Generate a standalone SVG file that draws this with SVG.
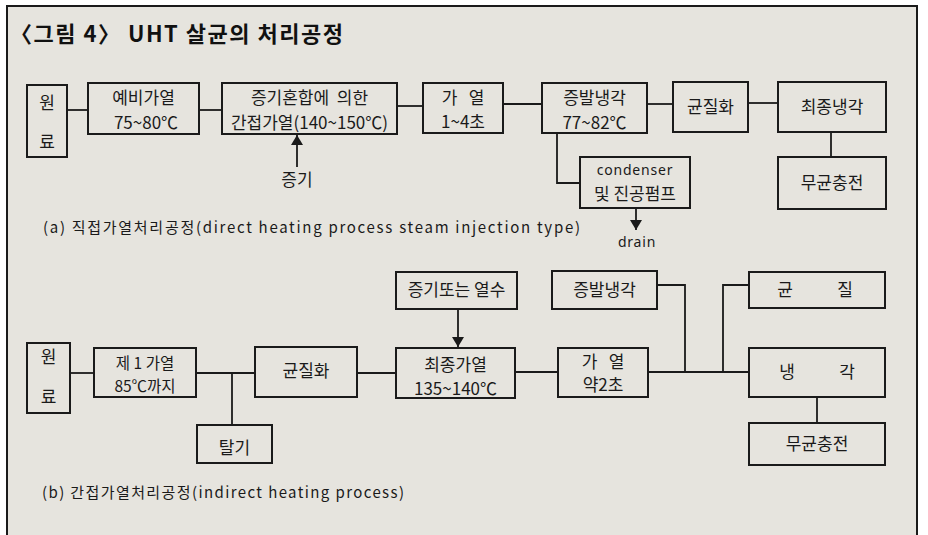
<svg xmlns="http://www.w3.org/2000/svg" width="928" height="535" viewBox="0 0 928 535">
<defs>
<style>
.box{fill:none;stroke:#1a1a1a;stroke-width:2}
.ln{fill:none;stroke:#1a1a1a;stroke-width:1.8}
.t{font-family:"Noto Sans CJK KR","Noto Sans",sans-serif;font-size:17px;fill:#1a1a1a;text-anchor:middle}
.s{font-size:15.5px}
.e{font-family:"Noto Sans","Noto Sans CJK KR",sans-serif;font-size:14px;fill:#1a1a1a;text-anchor:middle}
.cap{font-family:"Noto Sans CJK KR","Noto Sans",sans-serif;font-size:15px;fill:#1a1a1a}
.title{font-family:"Noto Sans CJK KR","Noto Sans",sans-serif;font-size:22px;font-weight:bold;fill:#111}
</style>
<marker id="ah" viewBox="0 0 10 14" refX="10" refY="7" markerWidth="10" markerHeight="14" markerUnits="userSpaceOnUse" orient="auto">
<path d="M0,1 L10,7 L0,13 Z" fill="#1a1a1a"/>
</marker>
</defs>
<rect x="0" y="0" width="928" height="535" fill="#ffffff"/>
<rect x="7" y="6" width="910" height="535" fill="#e6e4de" stroke="#1a1a1a" stroke-width="2"/>
<text class="title" x="10" y="42" textLength="333" lengthAdjust="spacing">〈그림 4〉 UHT 살균의 처리공정</text>

<g id="connectors">
<line class="ln" x1="67" y1="110" x2="88" y2="110"/>
<line class="ln" x1="199" y1="110" x2="222" y2="110"/>
<line class="ln" x1="397" y1="106" x2="423" y2="106"/>
<line class="ln" x1="503" y1="104" x2="542" y2="104"/>
<line class="ln" x1="647" y1="104" x2="673" y2="104"/>
<line class="ln" x1="748" y1="103" x2="778" y2="103"/>
<polyline class="ln" points="557,133 557,183 580,183"/>
<line class="ln" x1="831" y1="132" x2="831" y2="157"/>
<line class="ln" x1="636" y1="208" x2="636" y2="230" marker-end="url(#ah)"/>
<line class="ln" x1="297" y1="167" x2="297" y2="135" marker-end="url(#ah)"/>

<line class="ln" x1="70" y1="373" x2="94" y2="373"/>
<line class="ln" x1="196" y1="373" x2="255" y2="373"/>
<line class="ln" x1="232" y1="373" x2="232" y2="425"/>
<line class="ln" x1="357" y1="373" x2="396" y2="373"/>
<line class="ln" x1="515" y1="372" x2="558" y2="372"/>
<line class="ln" x1="648" y1="372" x2="749" y2="372"/>
<polyline class="ln" points="657,285 685,285 685,372"/>
<polyline class="ln" points="723,372 723,285 749,285"/>
<line class="ln" x1="817" y1="397" x2="817" y2="423"/>
<line class="ln" x1="458" y1="309" x2="458" y2="347" marker-end="url(#ah)"/>
</g>

<g id="a-raw"><rect class="box" x="27" y="85" width="40" height="72"/><text class="t" x="47" y="109">원</text><text class="t" x="47" y="148">료</text></g>
<g id="a-preheat"><rect class="box" x="88" y="83" width="111" height="51"/><text class="t" x="143.5" y="104">예비가열</text><text class="t" x="146" y="129">75~80℃</text></g>
<g id="a-steammix"><rect class="box" x="222" y="83" width="175" height="51"/><text class="t" x="309.5" y="104" xml:space="preserve">증기혼합에  의한</text><text class="t" x="309.5" y="129">간접가열(140~150℃)</text></g>
<g id="a-heat"><rect class="box" x="423" y="83" width="80" height="50"/><text class="t" x="463" y="104" xml:space="preserve">가   열</text><text class="t" x="463" y="128">1~4초</text></g>
<g id="a-evap"><rect class="box" x="542" y="83" width="105" height="50"/><text class="t" x="594.5" y="104">증발냉각</text><text class="t" x="594.5" y="129">77~82℃</text></g>
<g id="a-homog"><rect class="box" x="673" y="82" width="75" height="50"/><text class="t" x="710.5" y="113">균질화</text></g>
<g id="a-finalcool"><rect class="box" x="778" y="82" width="108" height="50"/><text class="t" x="832" y="113">최종냉각</text></g>
<g id="a-aseptic"><rect class="box" x="778" y="157" width="108" height="52"/><text class="t" x="832" y="189">무균충전</text></g>
<g id="a-condenser"><rect class="box" x="580" y="157" width="110" height="51"/><text class="e" x="635" y="175" letter-spacing="0.8">condenser</text><text class="t" x="635" y="200">및 진공펌프</text></g>
<g id="a-steam-label"><text class="t" x="297" y="186">증기</text></g>
<g id="a-drain-label"><text class="e" x="637" y="247" letter-spacing="0.8">drain</text></g>
<text class="cap" x="43" y="233" textLength="537" lengthAdjust="spacing">(a) 직접가열처리공정(direct heating process steam injection type)</text>

<g id="b-raw"><rect class="box" x="27" y="343" width="43" height="70"/><text class="t" x="48.5" y="363">원</text><text class="t" x="48.5" y="403">료</text></g>
<g id="b-heat1"><rect class="box" x="94" y="348" width="102" height="49"/><text class="t s" x="145" y="369" xml:space="preserve">제 1 가열</text><text class="t s" x="145" y="392">85℃까지</text></g>
<g id="b-homog"><rect class="box" x="255" y="347" width="102" height="50"/><text class="t" x="306" y="377">균질화</text></g>
<g id="b-deaer"><rect class="box" x="197" y="425" width="75" height="38"/><text class="t" x="234.5" y="454">탈기</text></g>
<g id="b-steam"><rect class="box" x="396" y="272" width="121" height="37"/><text class="t" x="456.5" y="296">증기또는 열수</text></g>
<g id="b-finalheat"><rect class="box" x="396" y="348" width="119" height="50"/><text class="t" x="455.5" y="371">최종가열</text><text class="t" x="455.5" y="395">135~140℃</text></g>
<g id="b-heat"><rect class="box" x="558" y="348" width="90" height="49"/><text class="t" x="603" y="368" xml:space="preserve">가   열</text><text class="t" x="603" y="391">약2초</text></g>
<g id="b-evap"><rect class="box" x="552" y="271" width="105" height="38"/><text class="t" x="604.5" y="296">증발냉각</text></g>
<g id="b-homog2"><rect class="box" x="749" y="272" width="136" height="36"/><text class="t" x="785" y="296">균</text><text class="t" x="845" y="296">질</text></g>
<g id="b-cool"><rect class="box" x="749" y="348" width="136" height="49"/><text class="t" x="787" y="378">냉</text><text class="t" x="847" y="378">각</text></g>
<g id="b-aseptic"><rect class="box" x="749" y="423" width="136" height="42"/><text class="t" x="817" y="450">무균충전</text></g>
<text class="cap" x="42" y="498" textLength="362" lengthAdjust="spacing">(b) 간접가열처리공정(indirect heating process)</text>
</svg>
